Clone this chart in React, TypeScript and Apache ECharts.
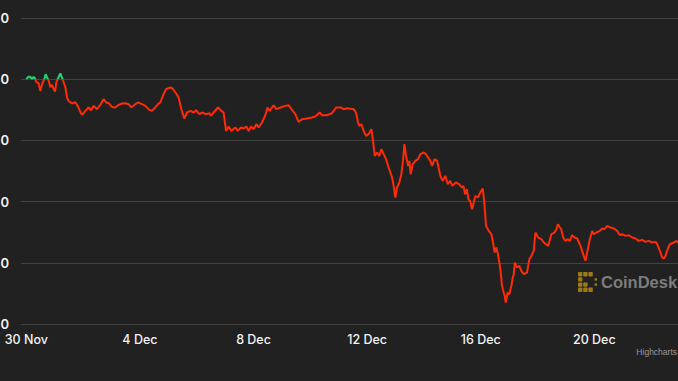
import React, { useEffect, useRef } from "react";
import * as echarts from "echarts";

// hours since 30 Nov 00:00
const hours = [
  0, 1.7, 3.4, 4.8, 6.2, 7.6, 8.5, 10.4, 11.8, 13.3, 15.2, 16.3, 17.5, 18.8, 20.3, 21.7, 23.1, 24.3, 25.4, 26.5,
  28.7, 30.7, 33.0, 34.4, 35.7, 38.6, 41.4, 43.4, 46.2, 47.3, 49.9, 52.6, 54.7, 56.9, 59.7, 62.5, 65.3, 67.6, 69.6, 72.4,
  75.2, 78.0, 80.9, 83.7, 86.5, 88.7, 92.1, 94.4, 97.8, 100.6, 103.9, 106.2, 109.0, 111.3, 113.2, 116.0, 118.1, 121.7, 123.6, 126.5,
  128.7, 131.0, 133.5, 135.8, 138.6, 141.4, 143.4, 146.2, 149.0, 151.3, 154.7, 155.8, 158.3, 162.0, 164.8, 166.7, 168.8, 171.0, 173.2, 176.6,
  178.6, 181.4, 183.6, 185.9, 187.9, 189.9, 192.1, 194.4, 196.3, 199.2, 202.0, 203.9, 205.6, 209.0, 211.3, 214.7, 218.9, 221.7, 224.5, 227.3,
  230.1, 233.0, 237.2, 241.4, 244.2, 247.9, 249.9, 254.1, 258.3, 262.0, 265.4, 268.2, 271.0, 276.6, 278.6, 280.3, 281.4, 283.1, 285.1, 287.1,
  289.3, 291.6, 293.0, 294.4, 296.4, 298.3, 300.0, 302.0, 304.0, 306.2, 309.1, 310.4, 311.8, 313.3, 315.2, 316.9, 318.3, 319.5, 320.9, 322.6,
  323.7, 324.8, 326.5, 328.8, 331.0, 333.0, 335.8, 337.2, 339.5, 341.4, 342.9, 345.0, 347.1, 349.9, 351.8, 354.1, 356.2, 358.1, 360.1, 362.9,
  365.7, 368.0, 369.4, 370.8, 372.2, 373.6, 375.0, 376.7, 378.1, 379.4, 381.7, 383.6, 385.7, 387.0, 388.5, 390.8, 393.0, 394.4, 395.8, 397.2,
  398.6, 400.6, 402.0, 403.4, 404.3, 405.1, 406.8, 408.2, 409.9, 411.1, 411.9, 412.8, 414.7, 416.6, 418.3, 420.4, 423.1, 425.1, 426.8, 428.8,
  430.2, 432.5, 435.3, 437.3, 441.0, 443.7, 446.3, 448.0, 449.2, 450.9, 452.0, 453.7, 455.6, 457.7, 459.3, 461.3, 463.2, 465.5, 468.3, 470.6,
  472.5, 474.5, 476.2, 478.2, 479.6, 481.8, 484.7, 486.6, 488.6, 490.9, 493.6, 496.5, 499.3, 501.6, 503.5, 506.3, 509.2, 512.0, 514.8, 517.6,
  520.4, 523.2, 526.1, 528.9, 531.7, 533.1, 535.4, 537.3, 538.8, 540.1, 542.2, 543.8, 547.4, 549.4, 551.4, 553.3,
];

const prices = [
  100.0, 100.38, 100.38, 100.0, 100.38, 100.0, 99.51, 99.3, 98.09, 99.18, 100.0, 100.82, 100.28, 99.84, 98.69, 99.07, 98.37, 97.99, 99.51, 100.0,
  100.93, 100.0, 98.69, 97.01, 96.45, 96.03, 96.24, 95.64, 94.4, 94.17, 94.82, 95.38, 94.93, 95.64, 95.1, 95.8, 96.73, 96.19, 96.08, 95.47,
  95.38, 95.8, 96.03, 96.08, 95.92, 95.38, 95.92, 96.19, 95.92, 95.64, 94.98, 94.82, 95.38, 95.92, 96.19, 97.55, 98.37, 98.64, 98.48, 97.71,
  97.01, 95.1, 93.58, 94.56, 94.82, 94.56, 94.93, 94.28, 94.56, 94.28, 94.44, 94.0, 94.56, 95.38, 94.82, 94.56, 91.55, 92.27, 91.55, 92.11,
  91.55, 92.11, 91.94, 92.27, 91.55, 92.27, 91.83, 92.65, 92.11, 92.92, 94.12, 95.38, 94.82, 95.75, 95.1, 95.38, 95.64, 95.75, 94.98, 94.28,
  93.02, 93.46, 93.58, 93.74, 93.91, 94.56, 94.12, 94.12, 94.44, 95.38, 95.38, 95.1, 95.26, 95.1, 94.56, 92.92, 92.37, 92.65, 91.55, 90.74,
  91.01, 91.83, 89.92, 87.47, 88.02, 87.47, 88.56, 87.75, 86.93, 85.57, 83.94, 82.57, 80.67, 82.3, 83.12, 84.48, 86.65, 89.38, 87.47, 85.83,
  86.65, 84.48, 86.11, 86.65, 86.93, 87.75, 88.02, 87.86, 87.21, 86.65, 85.83, 86.93, 86.65, 84.2, 83.38, 84.2, 82.84, 83.38, 82.57, 83.12,
  82.84, 82.3, 82.57, 81.21, 82.03, 80.39, 80.12, 78.76, 79.85, 80.93, 80.67, 81.49, 82.14, 79.85, 76.03, 75.21, 74.67, 73.32, 71.68, 72.5,
  71.41, 68.95, 66.23, 65.15, 64.59, 63.51, 65.15, 64.87, 66.23, 67.6, 68.14, 70.05, 69.23, 69.49, 68.68, 68.14, 68.41, 70.59, 71.13, 71.94,
  74.95, 74.13, 73.86, 73.32, 72.76, 74.67, 74.95, 75.49, 76.31, 75.77, 75.49, 74.13, 73.58, 73.86, 73.58, 74.51, 74.13, 73.97, 72.76, 71.41,
  70.31, 72.22, 73.86, 75.21, 74.67, 74.95, 75.21, 75.6, 75.49, 76.03, 75.77, 75.6, 75.21, 74.51, 74.67, 74.4, 74.51, 74.13, 73.97, 73.58,
  73.74, 73.42, 73.58, 73.31, 73.42, 73.04, 71.94, 70.87, 70.7, 71.13, 72.34, 73.04, 73.31, 73.58, 73.2, 73.31,
];

const startValue = 100;
const tickHours = [0, 96, 192, 288, 384, 480];
const tickLabels = ["30 Nov", "4 Dec", "8 Dec", "12 Dec", "16 Dec", "20 Dec"];
const yTicks = [60, 70, 80, 90, 100, 110];

const RED = "#ff2a06";
const GREEN = "#22d472";
const BG = "#212121";
const GRID = "#434343";
const GOLD = "rgba(176,138,24,0.85)";

// CoinDesk pixel mark: [col, row] cells
const logoCells = [
  [0, 0], [1, 0], [2, 0],
  [0, 1],
  [0, 2], [1, 2],
  [0, 3], [1, 3], [2, 3],
];
const logoDots = [[3, 1], [3, 2]];

export default function App() {
  const ref = useRef<HTMLDivElement>(null);
  useEffect(() => {
    if (!ref.current) return;
    const chart = echarts.init(ref.current, null, { renderer: "svg" });
    const data = hours.map((h, i) => [h, prices[i]]);
    const step = 5.2;
    const logoChildren: any[] = [
      ...logoCells.map(([c, r]) => ({
        type: "rect",
        shape: { x: c * step, y: r * step, width: 4.4, height: 4.4, r: 0.8 },
        style: { fill: GOLD },
      })),
      ...logoDots.map(([c, r]) => ({
        type: "rect",
        shape: { x: c * step + 1, y: r * step + 1, width: 2.4, height: 2.4 },
        style: { fill: GOLD },
      })),
    ];
    chart.setOption({
      animation: false,
      backgroundColor: BG,
      grid: { left: 21, right: 0, top: 18, bottom: 57, containLabel: false, outerBoundsMode: "none" },
      xAxis: {
        type: "value",
        min: -4.5,
        max: 550.7,
        axisLine: { show: true, lineStyle: { color: GRID, width: 1 } },
        axisTick: { show: false },
        splitLine: { show: false },
        axisLabel: {
          customValues: tickHours,
          formatter: (v: number) => tickLabels[tickHours.indexOf(v)] ?? "",
          color: "#f2f2f2",
          fontFamily: "Inter",
          fontWeight: 500,
          fontSize: 12.5,
          margin: 9,
        },
      },
      yAxis: {
        type: "value",
        min: yTicks[0],
        max: yTicks[yTicks.length - 1],
        interval: 10,
        axisLine: { show: false },
        axisTick: { show: false },
        splitLine: { show: true, lineStyle: { color: GRID, width: 1 } },
        axisLabel: {
          // the reference is cropped at its left edge: only each label's last digit shows
          formatter: (v: number) => String(v).slice(-1),
          color: "#f2f2f2",
          fontFamily: "Inter",
          fontWeight: 600,
          fontSize: 13,
          margin: 12,
        },
      },
      visualMap: {
        type: "piecewise",
        show: false,
        dimension: 1,
        seriesIndex: 0,
        pieces: [
          { lte: startValue, color: RED },
          { gt: startValue, lte: 1000, color: GREEN },
          { gt: 1000, color: GREEN },
        ],
      },
      series: [
        {
          type: "line",
          data,
          showSymbol: false,
          lineStyle: { width: 2 },
          z: 3,
        },
      ],
      graphic: [
        {
          type: "group",
          left: 578,
          top: 272,
          z: 1,
          children: logoChildren,
        },
        {
          type: "text",
          left: 601,
          top: 273,
          z: 1,
          style: {
            text: "CoinDesk",
            fill: "rgba(150,150,150,0.8)",
            font: "bold 16.5px 'Liberation Sans', Arial, sans-serif",
          },
        },
        {
          type: "text",
          right: 1,
          top: 347,
          style: {
            text: "Highcharts",
            fill: "#9a9a9a",
            font: "8.5px 'Liberation Sans', Arial, sans-serif",
          },
        },
      ],
    });
    return () => chart.dispose();
  }, []);
  return (
    <div
      ref={ref}
      style={{ position: "fixed", left: 0, top: 0, width: 678, height: 381, background: BG }}
    />
  );
}
